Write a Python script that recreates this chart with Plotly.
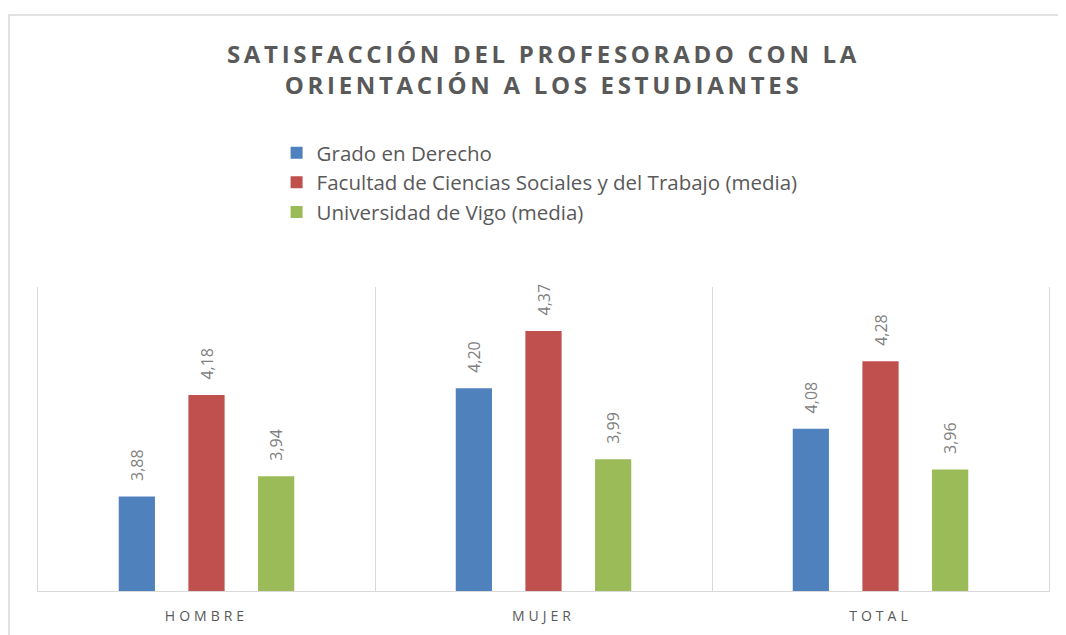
import plotly.graph_objects as go

categories = ["HOMBRE", "MUJER", "TOTAL"]
series_names = [
    "Grado en Derecho",
    "Facultad de Ciencias Sociales y del Trabajo (media)",
    "Universidad de Vigo (media)",
]
grado = [3.88, 4.20, 4.08]
facultad = [4.18, 4.37, 4.28]
uvigo = [3.94, 3.99, 3.96]

colors = ["#4F81BD", "#C0504D", "#9BBB59"]
_FONT = "Open Sans, Liberation Sans, sans-serif"
_GRID = "#D9D9D9"


def _spaced(text: str, px: float) -> str:
    return f"<span style='letter-spacing:{px}px'>{text}</span>"


fig = go.Figure()
for name, vals, color in zip(series_names, [grado, facultad, uvigo], colors):
    fig.add_trace(
        go.Bar(
            name=name,
            x=categories,
            y=vals,
            marker=dict(color=color, line=dict(width=0)),
            text=["\u00a0\u00a0\u00a0" + f"{v:.2f}".replace(".", ",") for v in vals],
            textposition="outside",
            textangle=-90,
            constraintext="none",
            cliponaxis=False,
            textfont=dict(family=_FONT, size=16, color="#7F7F7F"),
        )
    )

fig.update_layout(
    width=1066,
    height=635,
    barmode="group",
    bargap=0.38,
    bargroupgap=0.48,
    plot_bgcolor="white",
    paper_bgcolor="white",
    font=dict(family=_FONT, color="#595959"),
    title=dict(
        text=_spaced("SATISFACCIÓN DEL PROFESORADO CON LA", 3.7)
        + "<br>"
        + _spaced("ORIENTACIÓN A LOS ESTUDIANTES", 3.7),
        x=0.5,
        xref="paper",
        xanchor="center",
        y=0.913,
        yanchor="top",
        font=dict(family=_FONT, size=24, color="#595959", weight="bold"),
    ),
    legend=dict(
        x=0.236,
        y=1.507,
        xanchor="left",
        yanchor="top",
        orientation="v",
        font=dict(family=_FONT, size=20.5, color="#595959"),
        tracegroupgap=0,
        itemwidth=30,
    ),
    margin=dict(l=30, r=25, t=279, b=52),
    xaxis=dict(
        type="category",
        tickson="boundaries",
        showgrid=True,
        gridcolor=_GRID,
        gridwidth=1,
        showline=True,
        linecolor=_GRID,
        linewidth=1,
        ticks="",
        tickvals=categories,
        ticktext=[_spaced(c, 4) for c in categories],
        ticklabelstandoff=12,
        tickfont=dict(family=_FONT, size=14, color="#595959"),
    ),
    yaxis=dict(
        range=[3.6, 4.5],
        showgrid=False,
        showticklabels=False,
        zeroline=False,
        showline=True,
        linecolor=_GRID,
        linewidth=1,
        mirror=True,
    ),
    shapes=[
        dict(
            type="rect",
            xref="paper",
            yref="paper",
            x0=-0.0287,
            x1=1.05,
            y0=-0.3,
            y1=1.895,
            line=dict(color=_GRID, width=1.5),
            fillcolor="rgba(0,0,0,0)",
            layer="below",
        )
    ],
)

fig.write_html("out.html")
